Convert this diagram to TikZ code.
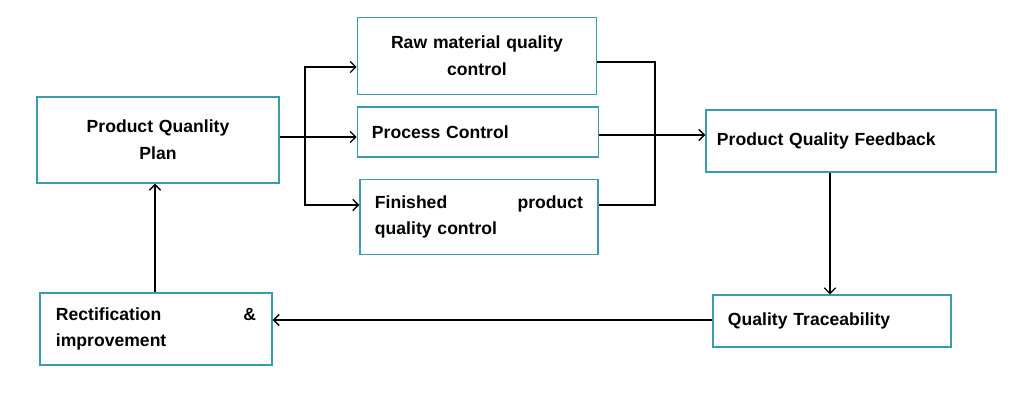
\documentclass[tikz,border=0pt]{standalone}
\usepackage{fontspec}
\setmainfont{Liberation Sans}
\usetikzlibrary{arrows.meta, positioning}
\definecolor{boxline}{HTML}{3A9BB0}
\begin{document}
\begin{tikzpicture}[x=0.025cm,y=-0.025cm,
  every path/.style={line width=0.9pt},
  qbox/.style={draw=boxline,line width=1pt,font=\bfseries\fontsize{12.5}{19}\selectfont,inner sep=0pt},
  flow/.style={-{Straight Barb[length=4pt,width=8pt]}}]
\useasboundingbox (0,0) rectangle (1015,417);

%% boxes
\node[qbox,text width=5cm,align=center,minimum width=6.05cm,minimum height=2.15cm] (plan) at (158,140) {Product Quanlity\\Plan};
\node[qbox,text width=5.1cm,align=center,minimum width=5.98cm,minimum height=1.93cm] (raw) at (477,56) {Raw material quality\\control};
\node[qbox,text width=5.3cm,align=left,minimum width=6.03cm,minimum height=1.25cm] (proc) at (478,132) {Process Control};
\node[qbox,text width=5.2cm,align=left,minimum width=5.95cm,minimum height=1.88cm] (fin) at (479,217) {Finished \hfill product\\quality control};
\node[qbox,text width=6.7cm,align=left,minimum width=7.25cm,minimum height=1.55cm] (feed) at (851,141) {Product Quality Feedback};
\node[qbox,text width=5.2cm,align=left,minimum width=5.95cm,minimum height=1.3cm] (trace) at (832,321) {Quality Traceability};
\node[qbox,text width=5.0cm,align=left,minimum width=5.8cm,minimum height=1.8cm] (rect) at (156,329) {Rectification \hfill \&\\improvement};

%% connectors
\coordinate (split) at (305,137);
\coordinate (join) at (655,62);
\draw (plan.east |- split) -- (split);
\draw[flow] (split) |- (raw.west |- 0,67);
\draw[flow] (split) -- (proc.west |- split);
\draw[flow] (split) |- (fin.west |- 0,205);
\draw (raw.east |- join) -- (join) |- (fin.east |- 0,205);
\draw[flow] (proc.east |- 0,135) -- (feed.west |- 0,135);
\draw[flow] (feed.south -| 830,0) -- (trace.north -| 830,0);
\draw[flow] (trace.west |- 0,320) -- (rect.east |- 0,320);
\draw[flow] (rect.north -| 155,0) -- (plan.south -| 155,0);
\end{tikzpicture}
\end{document}
